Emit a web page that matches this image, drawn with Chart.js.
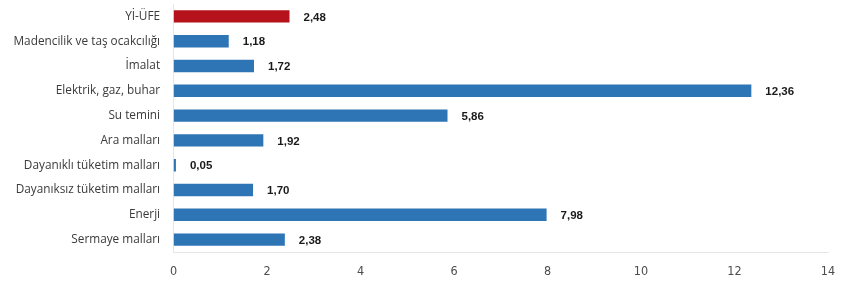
<!DOCTYPE html>
<html>
<head>
<meta charset="utf-8">
<script src="https://cdn.jsdelivr.net/npm/chart.js@4/dist/chart.umd.min.js"></script>
<style>
  html, body { margin: 0; padding: 0; background: #ffffff; }
  #wrap { width: 850px; height: 295px; position: relative; }
</style>
</head>
<body>
<div id="wrap"><canvas id="chart"></canvas></div>
<script>
const categories = [
  "Yİ-ÜFE",
  "Madencilik ve taş ocakcılığı",
  "İmalat",
  "Elektrik, gaz, buhar",
  "Su temini",
  "Ara malları",
  "Dayanıklı tüketim malları",
  "Dayanıksız tüketim malları",
  "Enerji",
  "Sermaye malları"
];
const values = [2.48, 1.18, 1.72, 12.36, 5.86, 1.92, 0.05, 1.70, 7.98, 2.38];
const xTicks = [0, 2, 4, 6, 8, 10, 12, 14];

const barColors = categories.map((c, i) => i === 0 ? "#b5121b" : "#2e75b6");

const valueLabels = {
  id: "valueLabels",
  afterDatasetsDraw(chart) {
    const ctx = chart.ctx;
    const meta = chart.getDatasetMeta(0);
    ctx.save();
    ctx.font = "bold 11.5px 'Liberation Sans', Arial, sans-serif";
    ctx.fillStyle = "#1a1a1a";
    ctx.textBaseline = "middle";
    meta.data.forEach((bar, i) => {
      const txt = values[i].toFixed(2).replace(".", ",");
      ctx.fillText(txt, bar.x + 14, bar.y + 1);
    });
    ctx.restore();
  }
};

new Chart(document.getElementById("chart"), {
  type: "bar",
  data: {
    labels: categories,
    datasets: [{
      data: values,
      backgroundColor: barColors,
      borderWidth: 0,
      barPercentage: 0.5,
      categoryPercentage: 1
    }]
  },
  options: {
    indexAxis: "y",
    responsive: true,
    maintainAspectRatio: false,
    animation: false,
    layout: { padding: { top: 4, right: 22, bottom: 4, left: 0 } },
    plugins: {
      legend: { display: false },
      tooltip: { enabled: false }
    },
    scales: {
      x: {
        min: 0,
        max: 14,
        afterBuildTicks: (axis) => { axis.ticks = xTicks.map((v) => ({ value: v })); },
        ticks: {
          color: "#4d4d4d",
          padding: 12,
          font: { family: "'Liberation Sans Narrow', 'DejaVu Sans Condensed', sans-serif", size: 12.5 }
        },
        grid: { display: false, drawTicks: false },
        border: { display: true, color: "#e6e6e6", width: 1 }
      },
      y: {
        afterFit: (axis) => { axis.paddingTop = 0; axis.paddingBottom = 0; },
        ticks: {
          color: "#3a3a3a",
          padding: 13.5,
          font: { family: "'Open Sans', sans-serif", size: 11.8 }
        },
        grid: { display: false, drawTicks: false },
        border: { display: true, color: "#e6e6e6", width: 1 }
      }
    }
  },
  plugins: [valueLabels]
});
</script>
</body>
</html>
